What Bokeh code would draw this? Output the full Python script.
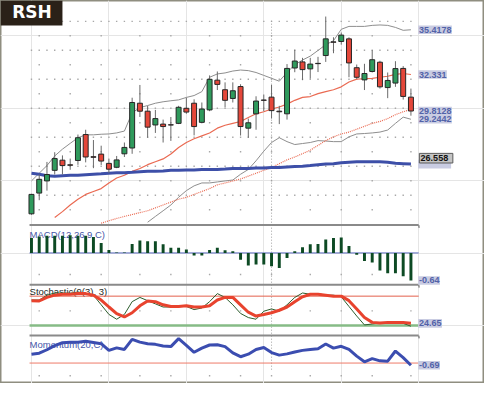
from bokeh.plotting import figure
from bokeh.models import Range1d, ColumnDataSource
from bokeh.core.properties import value
from bokeh.embed import file_html
from bokeh.resources import INLINE

# ---------------- data ----------------
opens = [22.72, 24.15, 24.99, 25.72, 26.42, 26.10, 26.40, 28.19, 26.66, 26.84,
         26.20, 25.93, 26.86, 27.26, 30.35, 29.80, 28.85, 28.91, 28.86, 28.96,
         30.00, 30.35, 29.03, 29.89, 31.94, 31.28, 30.68, 31.50, 28.63, 29.62,
         30.57, 30.77, 29.80, 29.62, 32.78, 33.20, 32.72, 33.10, 33.64, 34.58,
         34.61, 34.79, 32.80, 31.96, 32.54, 33.18, 31.43, 31.74, 32.75, 30.77]
highs = [24.10, 25.44, 26.30, 26.97, 26.75, 26.53, 28.19, 28.52, 27.81, 27.42,
         26.53, 26.71, 27.64, 30.73, 31.61, 30.17, 29.89, 29.22, 29.40, 30.17,
         30.73, 30.62, 30.40, 32.27, 32.54, 31.79, 31.79, 31.66, 29.29, 30.83,
         30.95, 31.61, 30.17, 33.05, 34.04, 33.48, 33.48, 33.55, 36.33, 34.90,
         35.23, 34.90, 33.02, 33.07, 34.01, 33.28, 32.47, 33.25, 32.91, 31.36]
lows = [22.65, 23.66, 24.32, 25.43, 25.43, 25.76, 26.10, 26.27, 25.87, 26.09,
        25.54, 25.87, 26.64, 26.86, 29.40, 27.97, 28.30, 27.64, 27.75, 28.91,
        29.62, 28.13, 28.96, 29.80, 31.26, 30.07, 30.40, 28.12, 27.97, 28.52,
        29.80, 29.29, 28.91, 29.22, 32.49, 31.94, 32.05, 32.50, 33.20, 33.80,
        34.39, 32.14, 32.03, 31.26, 32.47, 31.36, 30.70, 31.48, 30.60, 29.49]
closes = [24.06, 25.10, 25.43, 26.53, 26.05, 26.07, 27.97, 26.64, 26.62, 26.36,
          25.80, 26.44, 27.30, 30.40, 29.80, 28.70, 29.29, 28.74, 28.85, 30.07,
          29.74, 28.74, 29.95, 32.00, 31.65, 30.55, 31.21, 28.74, 29.00, 30.50,
          30.55, 29.84, 29.76, 32.75, 33.26, 32.67, 33.05, 33.08, 34.79, 34.56,
          35.05, 33.13, 32.14, 32.40, 33.35, 31.48, 31.92, 32.74, 30.82, 29.8128]

# Bollinger bands (grey), starting at candle 0 / candle 15
upper_band = [24.99, 25.52, 26.05, 26.71, 27.18, 27.58, 27.97, 28.17, 28.17, 28.21,
              28.23, 28.30, 28.43, 29.69, 30.05, 30.19, 30.35, 30.45, 30.52, 30.58,
              30.75, 30.88, 31.15, 32.14, 32.37, 32.44, 32.57, 32.64, 32.60, 32.47,
              32.27, 32.07, 31.87, 32.47, 33.00, 33.33, 33.60, 33.99, 34.39, 34.66,
              35.45, 35.65, 35.65, 35.65, 35.72, 35.75, 35.72, 35.58, 35.38, 35.4178]
lower_band = [22.14, 22.54, 22.93, 23.33, 23.86, 24.32, 24.65, 24.85, 24.85, 24.92,
              24.99, 25.05, 25.45, 25.78, 26.38, 27.04, 27.64, 27.97, 27.70, 27.50,
              27.57, 27.64, 27.77, 27.74, 27.70, 27.70, 28.03, 28.23, 28.26, 28.30,
              28.36, 28.50, 28.96, 29.39, 29.2442]
# red moving average (solid) from candle 3
ma_fast = [22.47, 22.87, 23.33, 23.73, 24.06, 24.26, 24.46, 24.85, 25.19, 25.38,
           25.65, 25.85, 26.11, 26.31, 26.51, 26.85, 27.30, 27.64, 27.90, 28.10,
           28.30, 28.63, 28.83, 28.96, 29.09, 29.36, 29.62, 29.76, 29.95, 30.09,
           30.29, 30.55, 30.75, 30.81, 31.01, 31.15, 31.28, 31.48, 31.81, 32.01,
           32.04, 32.07, 32.14, 32.21, 32.34, 32.40, 32.331]
# red moving average (dotted) from candle 9
ma_slow = [22.07, 22.24, 22.40, 22.54, 22.67, 22.80, 22.93, 23.13, 23.33, 23.53,
           23.73, 23.86, 24.06, 24.26, 24.46, 24.72, 24.85, 24.99, 25.12, 25.32,
           25.52, 25.72, 25.91, 26.18, 26.44, 26.64, 26.87, 27.11, 27.44, 27.77,
           28.03, 28.23, 28.36, 28.56, 28.76, 28.96, 29.09, 29.29, 29.56, 29.76, 29.92]
# blue long moving average from candle 0
ma_long = [25.52, 25.45, 25.35, 25.32, 25.35, 25.38, 25.38, 25.42, 25.45, 25.48,
           25.52, 25.55, 25.55, 25.58, 25.62, 25.65, 25.65, 25.68, 25.72, 25.72,
           25.75, 25.75, 25.78, 25.78, 25.78, 25.81, 25.85, 25.85, 25.85, 25.88,
           25.88, 25.91, 25.91, 25.95, 25.98, 26.01, 26.05, 26.11, 26.15, 26.18,
           26.25, 26.28, 26.31, 26.31, 26.31, 26.31, 26.28, 26.21, 26.18, 26.15]

macd_hist = [0.35, 0.38, 0.40, 0.40, 0.40, 0.41, 0.40, 0.40, 0.37, 0.23,
             0.07, 0.01, 0.01, 0.21, 0.29, 0.27, 0.27, 0.20, 0.12, 0.12,
             0.08, -0.06, -0.06, 0.07, 0.12, 0.06, 0.04, -0.16, -0.29, -0.27,
             -0.27, -0.31, -0.35, -0.12, 0.04, 0.13, 0.20, 0.21, 0.31, 0.35,
             0.36, 0.16, -0.04, -0.19, -0.22, -0.41, -0.47, -0.47, -0.54, -0.64]
stoch_k = [72.1, 72.0, 81.9, 86.4, 86.4, 86.0, 88.4, 85.2, 82.0, 62.4,
           42.8, 33.0, 42.8, 68.8, 77.4, 70.8, 64.3, 57.9, 57.9, 60.4,
           59.0, 52.6, 55.9, 68.8, 85.2, 77.4, 62.4, 44.8, 36.4, 33.0,
           49.3, 54.0, 49.3, 62.4, 77.4, 86.4, 83.9, 85.2, 81.9, 82.0,
           78.6, 59.0, 39.5, 21.4, 23.3, 25.3, 25.3, 25.3, 24.6, 18.8]
stoch_d = [70.8, 70.2, 77.4, 82.0, 83.9, 83.9, 85.2, 85.2, 82.0, 72.1,
           57.9, 44.2, 37.6, 46.2, 60.4, 70.2, 68.8, 62.4, 59.0, 59.0,
           60.4, 57.9, 57.9, 60.4, 72.1, 77.4, 77.4, 62.4, 47.3, 39.5,
           42.8, 46.2, 51.3, 57.9, 68.8, 78.6, 83.9, 83.9, 82.0, 80.0,
           80.0, 70.8, 54.0, 36.4, 26.6, 25.3, 26.6, 26.6, 26.6, 24.65]
momentum = [2.8, 3.1, 4.2, 5.5, 6.4, 6.6, 6.6, 6.9, 6.5, 6.1,
            4.0, 4.8, 4.3, 7.5, 6.6, 6.1, 5.9, 5.4, 5.2, 7.7,
            5.6, 3.4, 4.7, 5.7, 5.8, 5.2, 3.2, 2.0, 2.8, 4.3,
            4.9, 3.3, 2.5, 2.9, 3.5, 4.0, 4.3, 4.5, 6.0, 4.7,
            5.3, 4.3, 2.2, 0.4, 1.4, 0.7, 0.6, 3.8, 1.7, -0.69]

week_starts = [1, 5, 9, 14, 18, 23, 27, 31, 36, 40, 44, 49]
month_start = 31
price_grid = list(range(23, 37))
main_labels = ["35.4178", "32.331", "29.8128", "29.2442"]
main_label_values = [35.4178, 32.331, 29.8128, 29.2442]
marker_label, marker_value = "26.558", 26.558
long_ma_last = 26.15
panel_titles = ["MACD(12,26,9,C)", "Stochastic(9(3), 3)", "Momentum(20,C)"]
macd_label, stoch_label, mom_label = "-0.64", "24.65", "-0.69"
stoch_levels = [80, 20]

# ---------------- layout helpers (reference pixel -> data) ----------------
REF_W, REF_H = 500, 399
W, H = 484, 383


def X(px):
    return (px - 32) / 8.0


def PY(py):
    return 36 - (py - 21.7) / 15.1


def macd_v(py):
    return (263 - py) / 44.8


def stoch_v(py):
    return 20 + (338.7 - py) * 60 / 30.7


def mom_v(py):
    return (377.7 - py) / 3.3


def band_range(conv):
    return Range1d(start=conv(REF_H), end=conv(0))


p = figure(width=W, height=H, x_range=Range1d(X(0), X(REF_W)), y_range=band_range(PY),
           output_backend="svg", toolbar_location=None,
           x_axis_location=None, y_axis_location=None, min_border=0)
p.extra_y_ranges = {"macd": band_range(macd_v), "stoch": band_range(stoch_v),
                    "mom": band_range(mom_v)}
p.background_fill_color = "white"
p.border_fill_color = "white"
p.outline_line_color = "#8f8e80"
p.outline_line_width = 2

n = len(closes)
idx = list(range(n))


def xs_for(arr):
    return idx[n - len(arr):]


DOT = "#a8a8a8"
# ---- grid dots ----
gx, gy = [], []
for pr in price_grid:
    cols = idx if pr % 2 == 0 else week_starts
    for c in cols:
        gx.append(c)
        gy.append(pr)
p.scatter(gx, gy, marker="square", size=1.4, fill_color=DOT, line_color=None)
p.scatter(week_starts, [-0.5] * len(week_starts), marker="square", size=1.4,
          fill_color=DOT, line_color=None, y_range_name="macd")
p.scatter(week_starts, [50] * len(week_starts), marker="square", size=1.4,
          fill_color=DOT, line_color=None, y_range_name="stoch")
p.scatter(week_starts, [-4] * len(week_starts), marker="square", size=1.4,
          fill_color=DOT, line_color=None, y_range_name="mom")
p.segment(x0=[month_start], x1=[month_start], y0=[PY(21)], y1=[PY(386)],
          line_color="#a0a0a0", line_width=1, line_dash="1 2")

# ---- panel separators ----
for ypix in [234, 296, 349]:
    p.segment(x0=[X(30)], x1=[X(432)], y0=[PY(ypix)], y1=[PY(ypix)],
              line_color="#8a8a8a", line_width=2)
    p.segment(x0=[X(432)], x1=[X(432.5)], y0=[PY(ypix)], y1=[PY(ypix + 3)],
              line_color="#8a8a8a", line_width=1.5)

# ---- overlays in main panel ----
p.line(xs_for(upper_band), upper_band, line_color="#8e8e8e", line_width=1)
p.line(xs_for(lower_band), lower_band, line_color="#8e8e8e", line_width=1)
p.line(xs_for(ma_fast), ma_fast, line_color="#ea6a52", line_width=1.2)
p.line(xs_for(ma_slow), ma_slow, line_color="#ea6a52", line_width=1.2, line_dash="1 1")
p.line(xs_for(ma_long), ma_long, line_color="#3d4fa8", line_width=3)

# ---- candles ----
tops = [max(o, c) for o, c in zip(opens, closes)]
bots = [min(o, c) for o, c in zip(opens, closes)]
cols = ["#2f9a5c" if c >= o else "#e4473a" for o, c in zip(opens, closes)]
src = ColumnDataSource(dict(x=idx, high=highs, low=lows, top=tops, bottom=bots, color=cols))
p.segment(x0="x", x1="x", y0="low", y1="high", source=src, line_color="#6a6a6a", line_width=1)
p.vbar(x="x", width=0.64, top="top", bottom="bottom", fill_color="color",
       line_color="#262626", line_width=1, source=src)

# ---- panel titles ----
p.text(x=[X(30)] * 3, y=[PY(243.3), PY(303.3), PY(358)], text=panel_titles,
       text_color=["#4656a8", "#1e2a1e", "#4656a8"], text_font=value("Liberation Sans"),
       text_font_size="9.5px", text_align="left", text_baseline="middle")

# ---- MACD ----
p.segment(x0=[X(30)], x1=[X(432)], y0=[0], y1=[0], line_color="#5566bb", line_width=1,
          y_range_name="macd")
p.vbar(x=idx, width=0.38, top=macd_hist, bottom=0, fill_color="#0d4a24",
       line_color=None, y_range_name="macd")

# ---- Stochastic ----
p.segment(x0=[X(30)], x1=[X(432)], y0=[stoch_levels[0]], y1=[stoch_levels[0]],
          line_color="#e4604c", line_width=1, y_range_name="stoch")
p.segment(x0=[X(30)], x1=[X(432)], y0=[stoch_levels[1]], y1=[stoch_levels[1]],
          line_color="#86bb86", line_width=2.5, y_range_name="stoch")
p.line(idx, stoch_k, line_color="#2d5e2d", line_width=1, y_range_name="stoch")
p.line(idx, stoch_d, line_color="#e8432e", line_width=3, y_range_name="stoch")

# ---- Momentum ----
p.segment(x0=[X(30)], x1=[X(432)], y0=[0], y1=[0], line_color="#ee7a68", line_width=1,
          y_range_name="mom")
p.line(idx, momentum, line_color="#3b4db0", line_width=3, y_range_name="mom")


# ---- right-hand value labels ----
def text_px(s, size=9.2):
    return sum(0.278 if ch == '.' else 0.333 if ch == '-' else 0.556 for ch in s) * size


def add_labels(texts, vals, conv, rname, fill, tcolor, border=None, hpx=9):
    h = conv(0) - conv(hpx)
    widths = [(text_px(t) + 1.5) / 8.0 for t in texts]
    xs = [X(431.5) + w / 2 for w in widths]
    p.rect(x=xs, y=vals, width=widths, height=h, fill_color=fill, line_color=border,
           y_range_name=rname)
    p.text(x=[X(432.3)] * len(texts), y=vals, text=texts, text_font=value("Liberation Sans"),
           text_font_size="9px", text_font_style="bold", text_color=tcolor,
           text_align="left", text_baseline="middle", y_range_name=rname)


LBL_BG, LBL_TX = "#c9cce2", "#5262a8"
add_labels(main_labels, main_label_values, PY, "default", LBL_BG, LBL_TX)
# long MA label mostly hidden under the marker box
p.rect(x=[X(431.5) + 17 / 8.0], y=[long_ma_last], width=[34 / 8.0], height=[9 / 15.1],
       fill_color=LBL_BG, line_color=None)
p.rect(x=[X(432.7) + 17.3 / 8.0], y=[marker_value], width=[34.6 / 8.0], height=[10 / 15.1],
       fill_color="#c4c4c4", line_color="#5a5a5a", line_width=1)
p.text(x=[X(434)], y=[marker_value], text=[marker_label], text_font=value("Liberation Sans"),
       text_font_size="9px", text_font_style="bold", text_color="#111111",
       text_align="left", text_baseline="middle")
add_labels([macd_label], [macd_hist[-1]], macd_v, "macd", LBL_BG, LBL_TX)
add_labels([stoch_label], [stoch_d[-1]], stoch_v, "stoch", LBL_BG, LBL_TX)
add_labels([mom_label], [momentum[-1]], mom_v, "mom", LBL_BG, LBL_TX)

# ---- title box ----
p.quad(left=[X(0)], right=[X(64)], top=[PY(0)], bottom=[PY(26)], fill_color="#2a2118",
       line_color=None)
p.text(x=[X(32.5)], y=[PY(12.5)], text=["RSH"], text_font=value("DejaVu Sans"),
       text_font_size="17px", text_font_style="bold", text_color="white",
       text_align="center", text_baseline="middle")

open("out.html", "w").write(file_html(p, INLINE))
